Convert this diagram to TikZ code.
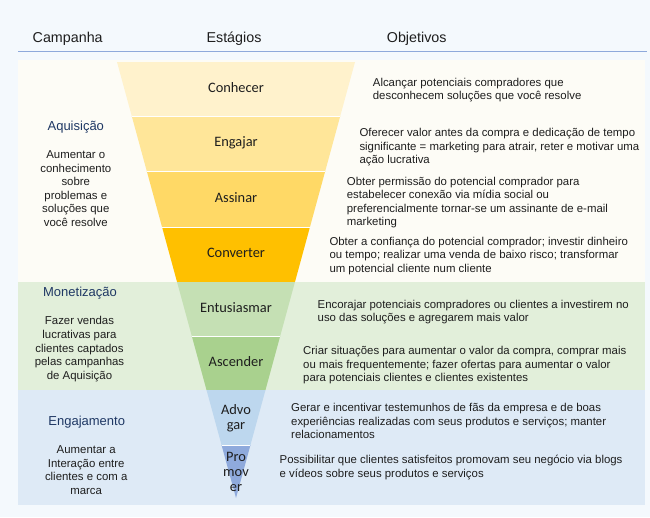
\documentclass[tikz,border=0pt]{standalone}
\usepackage{fontspec}
\setmainfont{Liberation Sans}
\newfontfamily\stagefont{Carlito}
\definecolor{bgc}{HTML}{F4F9FD}
\definecolor{acqband}{HTML}{FDFCF6}
\definecolor{monband}{HTML}{E2EFDA}
\definecolor{engband}{HTML}{DEEAF6}
\definecolor{hline}{HTML}{8EA9DB}
\definecolor{campblue}{HTML}{1F3864}
\definecolor{txt}{HTML}{1E1E1E}
\definecolor{sA}{HTML}{FFF2CC}
\definecolor{sB}{HTML}{FFE699}
\definecolor{sC}{HTML}{FFD966}
\definecolor{sD}{HTML}{FFC000}
\definecolor{sE}{HTML}{C5E0B4}
\definecolor{sF}{HTML}{A9D18E}
\definecolor{sG}{HTML}{BDD7EE}
\definecolor{sH}{HTML}{8FAADC}
\tikzset{
  head/.style={anchor=base, inner sep=0pt, text=txt, font=\fontsize{14.3}{17}\selectfont},
  camp/.style={anchor=base, inner sep=0pt, text=campblue, font=\fontsize{13}{15}\selectfont},
  desc/.style={anchor=north, inner sep=0pt, align=center, text=txt, font=\fontsize{11.4}{13.6}\selectfont},
  obj/.style={anchor=north west, inner sep=0pt, align=left, text=txt, font=\fontsize{11.4}{13.5}\selectfont},
  stagelbl/.style={anchor=center, inner sep=0pt, text=txt, text height=9.9pt, text depth=3pt, font=\stagefont\fontsize{14.4}{15}\selectfont},
  stagemulti/.style={anchor=center, inner sep=0pt, align=center, text=txt, font=\stagefont\fontsize{14.4}{15}\selectfont},
  sep/.style={white, line width=1pt}
}
\begin{document}
\begin{tikzpicture}[x=1pt,y=-1pt]
\path[use as bounding box, fill=bgc] (0,0) rectangle (650,517);
% bands
\fill[acqband] (17.5,60) rectangle (645,282);
\fill[monband] (17.5,282) rectangle (645,390);
\fill[engband] (17.5,390) rectangle (645,505);
% header
\coordinate (hl1) at (18,51);
\coordinate (hl2) at (647,51);
\draw[hline, line width=0.9pt] (hl1) -- (hl2);
\node[head] (hCamp) at (67.7,42.3) {Campanha};
\node[head] (hEst) at (234,42.3) {Estágios};
\node[head] (hObj) at (416.7,42.3) {Objetivos};
% funnel coordinates
\coordinate (L0) at (117,62);     \coordinate (R0) at (355,62);
\coordinate (L1) at (131.74,116); \coordinate (R1) at (340.26,116);
\coordinate (L2) at (146.75,171); \coordinate (R2) at (325.25,171);
\coordinate (L3) at (162.04,227); \coordinate (R3) at (309.96,227);
\coordinate (L4) at (177.05,282); \coordinate (R4) at (294.95,282);
\coordinate (L5) at (191.79,336); \coordinate (R5) at (280.21,336);
\coordinate (L6) at (206.52,390); \coordinate (R6) at (265.48,390);
\coordinate (L7) at (221.54,445); \coordinate (R7) at (250.46,445);
\coordinate (T) at (236,498);
\fill[sA] (L0) -- (R0) -- (R1) -- (L1) -- cycle;
\fill[sB] (L1) -- (R1) -- (R2) -- (L2) -- cycle;
\fill[sC] (L2) -- (R2) -- (R3) -- (L3) -- cycle;
\fill[sD] (L3) -- (R3) -- (R4) -- (L4) -- cycle;
\fill[sE] (L4) -- (R4) -- (R5) -- (L5) -- cycle;
\fill[sF] (L5) -- (R5) -- (R6) -- (L6) -- cycle;
\fill[sG] (L6) -- (R6) -- (R7) -- (L7) -- cycle;
\fill[sH] (L7) -- (R7) -- (T) -- cycle;
\draw[sep] (L1) -- (R1);
\draw[sep] (L2) -- (R2);
\draw[sep] (L3) -- (R3);
\draw[sep] (L5) -- (R5);
\draw[sep] (L7) -- (R7);
% stage labels
\node[stagelbl] (st1) at (236,89) {Conhecer};
\node[stagelbl] (st2) at (236,143.5) {Engajar};
\node[stagelbl] (st3) at (236,199) {Assinar};
\node[stagelbl] (st4) at (236,254.5) {Converter};
\node[stagelbl] (st5) at (236,309) {Entusiasmar};
\node[stagelbl] (st6) at (236,363) {Ascender};
\node[stagemulti] (st7) at (236,418.5) {Advo\\gar};
\node[stagemulti] (st8) at (236,471.5) {Pro\\mov\\er};
% campaigns
\node[camp] (cAq) at (75.8,130) {Aquisição};
\node[desc] (dAq) at (75.8,150.5) {Aumentar o\\conhecimento\\sobre\\problemas e\\soluções que\\você resolve};
\node[camp] (cMo) at (80,296.5) {Monetização};
\node[desc] (dMo) at (79.5,316.5) {Fazer vendas\\lucrativas para\\clientes captados\\pelas campanhas\\de Aquisição};
\node[camp] (cEn) at (86.7,425.5) {Engajamento};
\node[desc] (dEn) at (86.2,445.5) {Aumentar a\\Interação entre\\clientes e com a\\marca};
% objectives
\node[obj] (o1) at (372.7,78) {Alcançar potenciais compradores que\\desconhecem soluções que você resolve};
\node[obj] (o2) at (359.3,128.2) {Oferecer valor antes da compra e dedicação de tempo\\significante = marketing para atrair, reter e motivar uma\\ação lucrativa};
\node[obj] (o3) at (346.7,176.8) {Obter permissão do potencial comprador para\\estabelecer conexão via mídia social ou\\preferencialmente tornar-se um assinante de e-mail\\marketing};
\node[obj] (o4) at (329.3,237) {Obter a confiança do potencial comprador; investir dinheiro\\ou tempo; realizar uma venda de baixo risco; transformar\\um potencial cliente num cliente};
\node[obj] (o5) at (317.5,299.7) {Encorajar potenciais compradores ou clientes a investirem no\\uso das soluções e agregarem mais valor};
\node[obj] (o6) at (303,346.4) {Criar situações para aumentar o valor da compra, comprar mais\\ou mais frequentemente; fazer ofertas para aumentar o valor\\para potenciais clientes e clientes existentes};
\node[obj] (o7) at (291,403.5) {Gerar e incentivar testemunhos de fãs da empresa e de boas\\experiências realizadas com seus produtos e serviços; manter\\relacionamentos};
\node[obj] (o8) at (279.5,455) {Possibilitar que clientes satisfeitos promovam seu negócio via blogs\\e vídeos sobre seus produtos e serviços};
\end{tikzpicture}
\end{document}
